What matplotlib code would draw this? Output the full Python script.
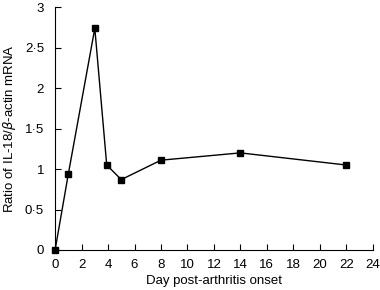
import matplotlib
matplotlib.use("Agg")
import matplotlib.pyplot as plt
from matplotlib.ticker import FuncFormatter

plt.rcParams["font.family"] = ["Liberation Sans", "DejaVu Sans"]

# datos
days = [0, 1, 3, 3.9, 5, 8, 14, 22]
ratio = [0.0, 0.94, 2.74, 1.05, 0.87, 1.11, 1.20, 1.05]
xticks = list(range(0, 25, 2))
yticks = [0, 0.5, 1, 1.5, 2, 2.5, 3]

fig = plt.figure(figsize=(3.8, 2.9), dpi=100)
ax = fig.add_axes([0.145, 0.138, 0.836, 0.837])

ax.plot(days, ratio, color="black", linewidth=1, marker="s", markersize=4.8,
        markerfacecolor="black", markeredgecolor="black", clip_on=False, zorder=3)

ax.set_xlim(0, 24)
ax.set_ylim(0, 3)
ax.set_xticks(xticks)
ax.set_yticks(yticks)
ax.yaxis.set_major_formatter(FuncFormatter(lambda v, p: ("%g" % v).replace(".", "\u00b7")))
ax.spines["top"].set_visible(False)
ax.spines["right"].set_visible(False)
ax.tick_params(direction="in", length=4, width=0.8, labelsize=9.5)
ax.tick_params(axis="x", pad=6.5)
ax.tick_params(axis="y", pad=8)

ax.set_xlabel("Day post-arthritis onset", fontsize=9.5, labelpad=3)
ax.set_ylabel(r"Ratio of IL-18/$\mathit{\beta}$-actin mRNA", fontsize=9.5, labelpad=5)

fig.savefig("out.png", dpi=100)
